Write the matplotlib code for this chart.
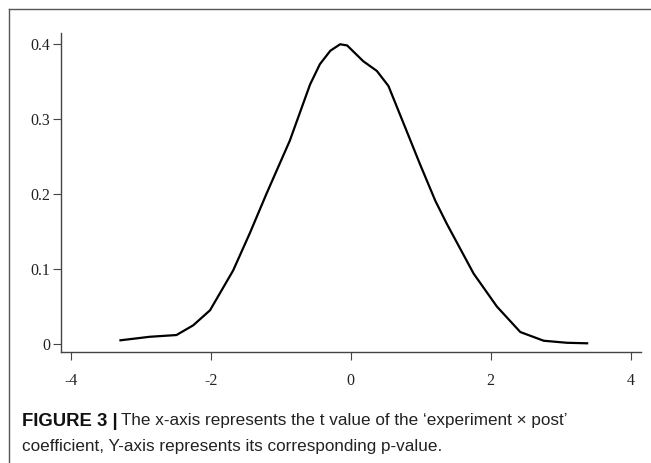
import matplotlib
matplotlib.use("Agg")
import matplotlib.pyplot as plt
from matplotlib.lines import Line2D

t_values = [-3.29, -2.87, -2.49, -2.25, -2.01, -1.68, -1.44, -1.20, -0.87, -0.58, -0.44,
            -0.29, -0.15, -0.05, 0.18, 0.375, 0.54, 0.80, 0.99, 1.21, 1.376, 1.757,
            2.09, 2.425, 2.76, 3.09, 3.38]
density = [0.005, 0.0097, 0.012, 0.025, 0.045, 0.098, 0.148, 0.201, 0.271, 0.346, 0.373,
           0.391, 0.3996, 0.398, 0.377, 0.364, 0.344, 0.284, 0.240, 0.191, 0.160, 0.094,
           0.050, 0.016, 0.0044, 0.0017, 0.001]
x_ticks = [-4, -2, 0, 2, 4]
y_ticks = [0, 0.1, 0.2, 0.3, 0.4]
y_ticklabels = ["0", "0.1", "0.2", "0.3", "0.4"]

W, H = 651, 463
fig = plt.figure(figsize=(W / 100, H / 100), dpi=100)

# frame lines
fig.add_artist(Line2D([9 / W, 1.0], [1 - 9 / H, 1 - 9 / H], transform=fig.transFigure,
                      color="#555555", lw=1.0))
fig.add_artist(Line2D([9 / W, 9 / W], [1 - 9 / H, 0.0], transform=fig.transFigure,
                      color="#555555", lw=1.0))

ax = fig.add_axes([61 / W, (H - 352) / H, (641 - 61) / W, (352 - 33) / H])
ax.plot(t_values, density, color="black", lw=1.6)
ax.set_xlim(-4.14, 4.15)
ax.set_ylim(-0.0106, 0.4146)
for s in ["top", "right"]:
    ax.spines[s].set_visible(False)
for s in ["left", "bottom"]:
    ax.spines[s].set_color("#444444")
    ax.spines[s].set_linewidth(1.0)
ax.set_xticks(x_ticks)
ax.set_xticklabels([str(v) for v in x_ticks])
ax.set_yticks(y_ticks)
ax.set_yticklabels(y_ticklabels)
ax.tick_params(direction="out", length=6, width=0.8, color="#444444", labelsize=11.5)
ax.tick_params(axis="x", pad=9)
ax.tick_params(axis="y", pad=2)
for lab in ax.get_xticklabels() + ax.get_yticklabels():
    lab.set_family("Liberation Serif")
    lab.set_color("#222222")

fam = ["Liberation Sans", "DejaVu Sans"]
fs = 12.3
bold = fig.text(22 / W, 1 - 421 / H, "FIGURE 3 |", family=fam, weight="bold", fontsize=13.3,
                va="center", ha="left", color="#111111")
fig.canvas.draw()
bb = bold.get_window_extent()
fig.text((bb.x1 + 3) / W, 1 - 421 / H,
         "The x-axis represents the t value of the \u2018experiment \u00d7 post\u2019",
         family=fam, fontsize=fs, va="center", ha="left", color="#222222")
fig.text(22 / W, 1 - 447 / H, "coefficient, Y-axis represents its corresponding p-value.",
         family=fam, fontsize=fs, va="center", ha="left", color="#222222")

fig.savefig("out.png", dpi=100, facecolor="white")
